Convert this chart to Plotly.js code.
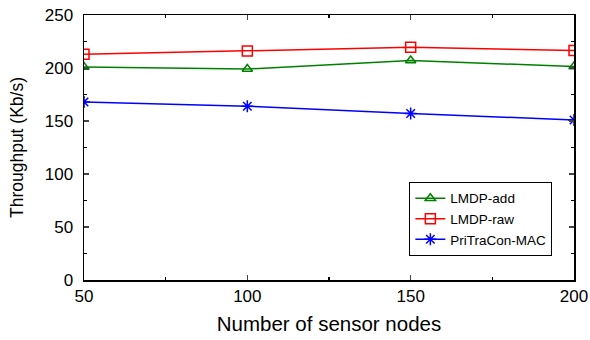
<!DOCTYPE html>
<html><head><meta charset="utf-8">
<script src="https://cdn.plot.ly/plotly-3.0.1.min.js"></script>
<style>body{margin:0;padding:0;background:#fff}#chart{width:590px;height:340px}</style>
</head><body><div id="chart"></div>
<script>
const nodes = [50, 100, 150, 200];
const lmdpAdd = [201, 199, 207, 201.5];
const lmdpRaw = [213, 216, 219.5, 216.5];
const pritracon = [168, 164, 157, 151];
const names = ['LMDP-add', 'LMDP-raw', 'PriTraCon-MAC'];

const traces = [
  {x: nodes, y: lmdpAdd, name: names[0], mode: 'lines+markers', line: {color: '#008000', width: 1.5},
   marker: {symbol: 'triangle-up-open', size: 9, color: '#008000', line: {width: 1.5}}},
  {x: nodes, y: lmdpRaw, name: names[1], mode: 'lines+markers', line: {color: '#ff0000', width: 1.5},
   marker: {symbol: 'square-open', size: 10, color: '#ff0000', line: {width: 1.5}}},
  {x: nodes, y: pritracon, name: names[2], mode: 'lines+markers', line: {color: '#0000ff', width: 1.5},
   marker: {symbol: 'asterisk-open', size: 10, color: '#0000ff', line: {width: 1.5}}}
];

const layout = {
  width: 590, height: 340,
  margin: {l: 84, r: 16, t: 15, b: 60},
  paper_bgcolor: '#fff', plot_bgcolor: '#fff',
  font: {family: 'Liberation Sans, Arial, sans-serif', color: '#000', size: 17},
  showlegend: true,
  legend: {x: 0.664, y: 0.37, xanchor: 'left', yanchor: 'top', bordercolor: '#000', borderwidth: 1,
    bgcolor: '#fff', font: {size: 13.5}, tracegroupgap: 0, itemwidth: 30},
  xaxis: {range: [50, 200], tickvals: [50, 100, 150, 200], ticks: 'inside', ticklen: 5, tickwidth: 1.5,
    showline: true, linecolor: '#000', linewidth: 1.5, mirror: 'allticks', showgrid: false, zeroline: false,
    minor: {dtick: 25, tick0: 50, ticks: 'inside', ticklen: 3, tickwidth: 1.5, tickcolor: '#000', showgrid: false},
    tickfont: {size: 17}, title: {text: 'Number of sensor nodes', font: {size: 20.5}, standoff: 11}},
  yaxis: {range: [0, 250], tickvals: [0, 50, 100, 150, 200, 250], ticks: 'inside', ticklen: 5, tickwidth: 1.5,
    showline: true, linecolor: '#000', linewidth: 1.5, mirror: 'allticks', showgrid: false, zeroline: false,
    ticklabelstandoff: 6,
    minor: {dtick: 25, tick0: 0, ticks: 'inside', ticklen: 3, tickwidth: 1.5, tickcolor: '#000', showgrid: false},
    tickfont: {size: 17}, title: {text: 'Throughput (Kb/s)', font: {size: 17.5}, standoff: 16}}
};

Plotly.newPlot('chart', traces, layout, {displayModeBar: false, staticPlot: true});
</script></body></html>
